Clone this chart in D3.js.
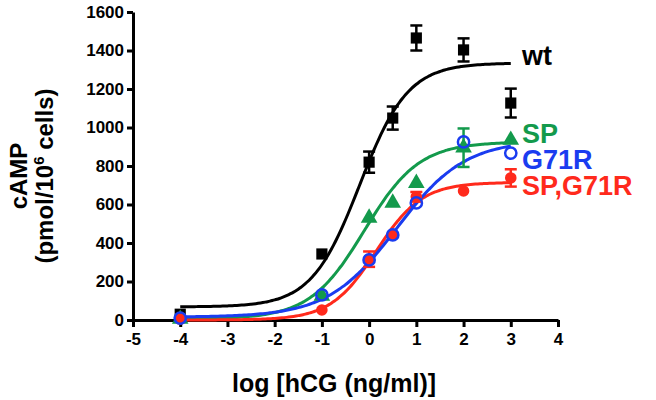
<!DOCTYPE html>
<html lang="en">
<head>
<meta charset="UTF-8" />
<title>cAMP dose response</title>
<script src="https://d3js.org/d3.v7.min.js"></script>
<style>
    body { margin: 0; background: #fff; font-family: Arial, "Liberation Sans", sans-serif; }
    .axis path, .axis line { stroke: #000; stroke-width: 3px; }
    .axis text { font-size: 17px; font-weight: bold; fill: #000; }
    .curve { fill: none; stroke-width: 3px; }
    .lbl { font-size: 27px; font-weight: bold; }
    .title { font-weight: bold; fill: #000; }
</style>
</head>
<body>
<div id="chart"></div>
<script>
    // log dose of hCG (ng/ml)
    const logDose = [-4, -1, 0, 0.5, 1, 2, 3];

    // cAMP, pmol / 10^6 cells
    const wtMean   = [30, 343, 820, 1049, 1465, 1403, 1127];
    const wtErr    = [0, 0, 55, 60, 65, 60, 75];
    const spMean   = [5, 125, 530, 608, 711, 895, 935];
    const spErr    = [0, 0, 0, 0, 0, 100, 0];
    const g71rMean = [10, 130, 312, 442, 608, 925, 867];
    const g71rErr  = [0, 0, 0, 0, 0, 0, 0];
    const spgMean  = [5, 52, 316, 440, 640, 670, 738];
    const spgErr   = [0, 0, 40, 0, 25, 0, 45];

    // sigmoid fit parameters: bottom, top, logEC50, hill slope
    const wtFit   = [68, 1335, -0.2, 0.85];
    const spFit   = [5, 925, -0.1, 0.75];
    const g71rFit = [15, 935, 0.58, 0.6];
    const spgFit  = [0, 715, 0.15, 0.9];

    const xTicks = [-5, -4, -3, -2, -1, 0, 1, 2, 3, 4];
    const yTicks = [0, 200, 400, 600, 800, 1000, 1200, 1400, 1600];

    const W = 656, H = 400;
    const x = d3.scaleLinear().domain([-5, 4]).range([133, 558]);
    const y = d3.scaleLinear().domain([0, 1600]).range([320, 12]);

    const svg = d3.select("#chart").append("svg")
        .attr("width", W).attr("height", H);

    const series = [
        { name: "wt",      color: "#000000", mean: wtMean,   err: wtErr,   fit: wtFit,   shape: "square",   labelY: 65 },
        { name: "SP",      color: "#139a4c", mean: spMean,   err: spErr,   fit: spFit,   shape: "triangle", labelY: 143 },
        { name: "SP,G71R", color: "#ff2a1c", mean: spgMean,  err: spgErr,  fit: spgFit,  shape: "dot",      labelY: 195 },
        { name: "G71R",    color: "#1a3cf0", mean: g71rMean, err: g71rErr, fit: g71rFit, shape: "ring",     labelY: 169 }
    ];

    const logistic = (p, t) => p[0] + (p[1] - p[0]) / (1 + Math.pow(10, (p[2] - t) * p[3]));
    const line = d3.line().x(d => x(d[0])).y(d => y(d[1])).curve(d3.curveMonotoneX);

    // axes
    svg.append("g")
        .attr("class", "axis")
        .attr("transform", "translate(133,0)")
        .call(d3.axisLeft(y).tickValues(yTicks).tickSize(6).tickSizeOuter(0).tickPadding(3)
            .tickFormat(d => String(d)));

    svg.append("g")
        .attr("class", "axis")
        .attr("transform", "translate(0,320)")
        .call(d3.axisBottom(x).tickValues(xTicks).tickSize(7).tickSizeOuter(0).tickPadding(6)
            .tickFormat(d => String(d)));

    // fitted curves
    series.forEach(s => {
        const pts = d3.range(-4, 3.0001, 0.05).map(t => [t, logistic(s.fit, t)]);
        svg.append("path")
            .attr("class", "curve")
            .attr("stroke", s.color)
            .attr("d", line(pts));
    });

    // error bars and markers
    const sym = {
        square: d3.symbol().type(d3.symbolSquare).size(125),
        triangle: d3.symbol().type(d3.symbolTriangle).size(120),
        dot: d3.symbol().type(d3.symbolCircle).size(105),
        ring: d3.symbol().type(d3.symbolCircle).size(100)
    };

    series.forEach(s => {
        const g = svg.append("g");
        const pts = logDose.map((t, i) => ({ t, v: s.mean[i], e: s.err[i] }));

        const eb = g.selectAll(".eb").data(pts.filter(d => d.e > 0)).enter().append("g")
            .attr("stroke", s.color).attr("stroke-width", 2.5);
        eb.append("line")
            .attr("x1", d => x(d.t)).attr("x2", d => x(d.t))
            .attr("y1", d => y(d.v - d.e)).attr("y2", d => y(d.v + d.e));
        eb.append("line")
            .attr("x1", d => x(d.t) - 6).attr("x2", d => x(d.t) + 6)
            .attr("y1", d => y(d.v + d.e)).attr("y2", d => y(d.v + d.e));
        eb.append("line")
            .attr("x1", d => x(d.t) - 6).attr("x2", d => x(d.t) + 6)
            .attr("y1", d => y(d.v - d.e)).attr("y2", d => y(d.v - d.e));

        g.selectAll(".mk").data(pts).enter().append("path")
            .attr("transform", d => `translate(${x(d.t)},${y(d.v)})`)
            .attr("d", sym[s.shape])
            .attr("fill", s.shape === "ring" ? "none" : s.color)
            .attr("stroke", s.shape === "ring" ? s.color : "none")
            .attr("stroke-width", 2.5);

        svg.append("text")
            .attr("class", "lbl")
            .attr("x", 522).attr("y", s.labelY)
            .attr("fill", s.color)
            .text(s.name);
    });

    // axis titles
    svg.append("text")
        .attr("class", "title")
        .attr("x", 334).attr("y", 392)
        .attr("text-anchor", "middle")
        .style("font-size", "25px")
        .text("log [hCG (ng/ml)]");

    const yt = svg.append("text")
        .attr("class", "title")
        .attr("transform", "translate(27,176) rotate(-90)")
        .attr("text-anchor", "middle")
        .style("font-size", "24px");
    yt.append("tspan").attr("x", 0).attr("y", 0).text("cAMP");
    const l2 = yt.append("tspan").attr("x", 0).attr("y", 26);
    l2.append("tspan").text("(pmol/10");
    l2.append("tspan").attr("dy", -9).style("font-size", "15px").text("6");
    l2.append("tspan").attr("dy", 9).text(" cells)");
</script>
</body>
</html>
